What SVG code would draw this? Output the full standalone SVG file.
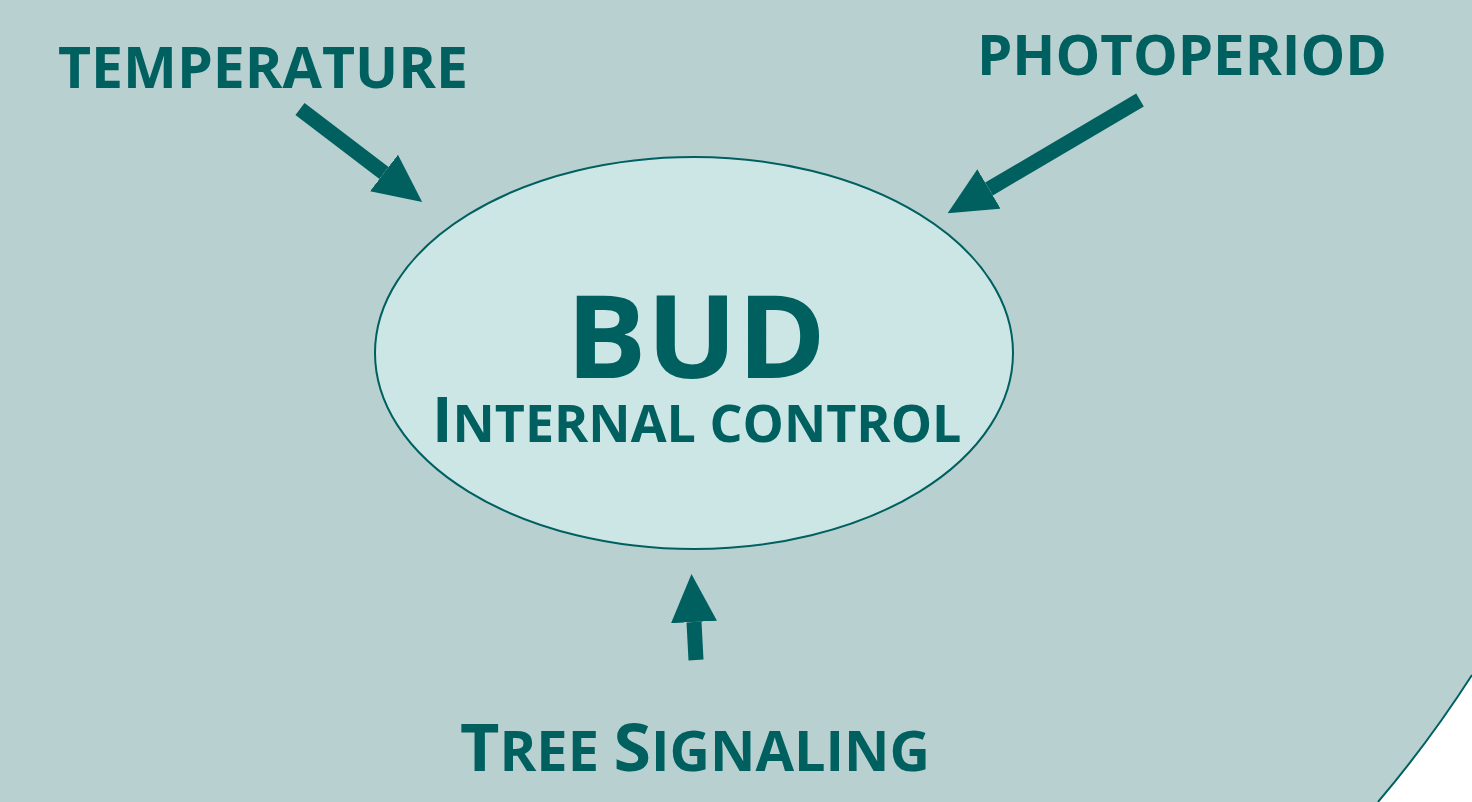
<svg xmlns="http://www.w3.org/2000/svg" width="1472" height="802" viewBox="0 0 1472 802">
  <style>
    .lbl { font-family: "Open Sans", "Liberation Sans", sans-serif; font-weight: 700; fill: #006060; }
    .arrow { stroke: #006060; stroke-width: 15; fill: none; marker-end: url(#head); }
  </style>
  <defs>
    <marker id="head" viewBox="0 0 48 46" refX="0" refY="23" markerWidth="48" markerHeight="46" markerUnits="userSpaceOnUse" orient="auto">
      <path d="M0,0 L48,23 L0,46 Z" fill="#006060"/>
    </marker>
  </defs>
  <rect width="1472" height="802" fill="#ffffff"/>
  <g id="background">
    <path d="M0,0 H1472 V675 A1200 1200 0 0 1 1378 802 H0 Z" fill="#b8d0d0"/>
    <path d="M1472,675 A1200 1200 0 0 1 1378 802" fill="none" stroke="#006060" stroke-width="2"/>
  </g>
  <g id="bud">
    <ellipse cx="694" cy="353" rx="319" ry="196" fill="#cce6e6" stroke="#006060" stroke-width="2"/>
    <text class="lbl"><tspan x="566" y="378" font-size="115" textLength="260" lengthAdjust="spacingAndGlyphs">BUD</tspan><tspan x="432" y="442" font-size="62">I</tspan><tspan font-size="52">NTERNAL CONTROL</tspan></text>
  </g>
  <g id="temperature">
    <text class="lbl" x="58" y="88" font-size="57" textLength="410" lengthAdjust="spacingAndGlyphs">TEMPERATURE</text>
  </g>
  <g id="photoperiod">
    <text class="lbl" x="977" y="75" font-size="56" textLength="410" lengthAdjust="spacingAndGlyphs">PHOTOPERIOD</text>
  </g>
  <g id="tree-signaling">
    <text class="lbl" x="460" y="771" textLength="470" lengthAdjust="spacingAndGlyphs"><tspan font-size="67">T</tspan><tspan font-size="55">REE </tspan><tspan font-size="67">S</tspan><tspan font-size="55">IGNALING</tspan></text>
  </g>
  <g id="connectors">
    <line class="arrow" x1="300" y1="109" x2="384" y2="173"/>
    <line class="arrow" x1="1140" y1="100" x2="989" y2="189"/>
    <line class="arrow" x1="696" y1="660" x2="694" y2="622"/>
  </g>
</svg>
